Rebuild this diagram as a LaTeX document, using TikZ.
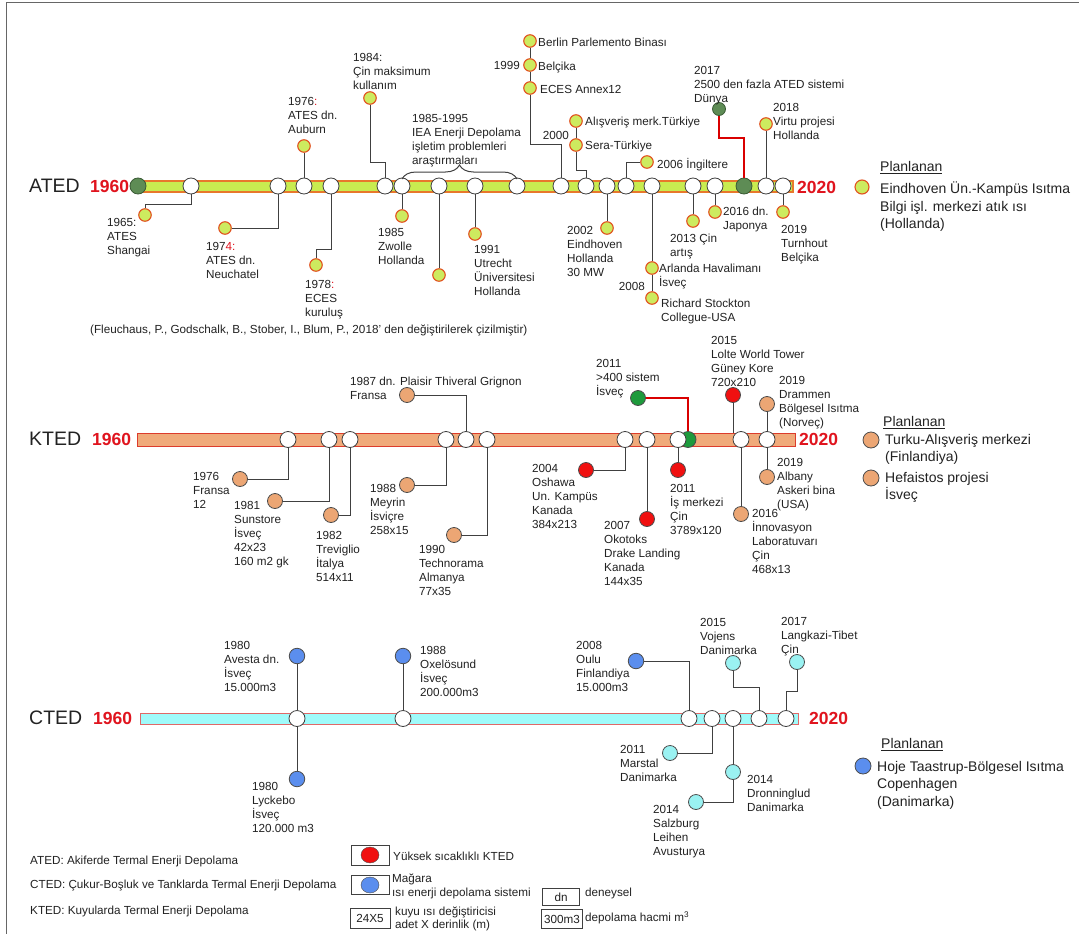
\documentclass[tikz,border=0pt]{standalone}
\usepackage{fontspec}
\setmainfont{Liberation Sans}
\usetikzlibrary{decorations.pathreplacing,shapes.geometric}
\definecolor{atedf}{HTML}{C8EC50}
\definecolor{atedb}{HTML}{E8782C}
\definecolor{adotf}{HTML}{CDEB5F}
\definecolor{adotb}{HTML}{E2501E}
\definecolor{agr}{HTML}{5E8C55}
\definecolor{agrb}{HTML}{3A5A34}
\definecolor{ktedf}{HTML}{F0AA7A}
\definecolor{ktedb}{HTML}{DC3C2C}
\definecolor{kdotf}{HTML}{ECA674}
\definecolor{redd}{HTML}{F01010}
\definecolor{kgr}{HTML}{1E9A3C}
\definecolor{ctedf}{HTML}{A0FAFA}
\definecolor{ctedb}{HTML}{E06868}
\definecolor{blued}{HTML}{5B8EEE}
\definecolor{cyand}{HTML}{9AF2F2}
\definecolor{yearred}{HTML}{E0141E}
\definecolor{txt}{HTML}{222222}
\newcommand{\labf}{\fontsize{11.7}{14}\selectfont}
\newcommand{\planf}{\fontsize{14}{17.5}\selectfont}
\newcommand{\bigf}{\fontsize{19.5}{22}\selectfont}
\newcommand{\yearf}{\fontsize{17.5}{20}\selectfont\bfseries}
\tikzset{
 wc/.style={circle, draw=black!75, fill=white, line width=0.8pt, minimum size=16pt, inner sep=0pt},
 adot/.style={circle, draw=adotb, fill=adotf, line width=1.1pt, minimum size=12.5pt, inner sep=0pt},
 gdot/.style={circle, draw=agrb, fill=agr, line width=0.8pt, minimum size=13pt, inner sep=0pt},
 kdot/.style={circle, draw=black!70, fill=kdotf, line width=0.8pt, minimum size=15pt, inner sep=0pt},
 rdot/.style={kdot, fill=redd},
 kgdot/.style={kdot, fill=kgr},
 bdot/.style={kdot, fill=blued, minimum size=15.5pt},
 cdot/.style={kdot, fill=cyand},
 conn/.style={draw=black!75, line width=1pt},
 rconn/.style={draw=red!85!black, line width=2.4pt},
 lab/.style={font=\labf, align=left, inner sep=0pt, anchor=north west, yshift=4.3pt, text=txt},
 labr/.style={lab, anchor=north east},
 plan/.style={font=\planf, align=left, inner sep=0pt, anchor=north west, yshift=5pt, text=txt},
 bigl/.style={font=\bigf, anchor=west, inner sep=0pt, text=txt},
 yr/.style={font=\yearf, anchor=west, inner sep=0pt, text=yearred},
 leg/.style={font=\labf, anchor=west, inner sep=0pt, text=txt},
 legbox/.style={draw=black!75, line width=0.8pt, inner sep=0pt},
}
\begin{document}
\begin{tikzpicture}[x=1pt,y=-1pt]
\useasboundingbox (0,0) rectangle (1079,934);
\fill[white] (0,0) rectangle (1079,934);
\draw[black!60, line width=1pt] (6,940) -- (6,3) -- (1079,3);

% ================= ATED =================
\node[bigl] (tA) at (29,186) {ATED};
\node[yr] (yA1) at (90,186) {1960};
\node[yr] (yA2) at (797,187) {2020};
\draw[fill=atedf, draw=atedb, line width=1.5pt] (138,181) rectangle (793,192);
\node[gdot, minimum size=16pt] (a0) at (138,186) {};
\foreach \n/\x in {a1/191,a2/278,a3/304,a4/331,a5/385,a6/402,a7/439,a8/475,a9/517,a10/561,a11/586,a12/607,a13/626,a14/652,a15/693,a16/715,a17/766,a18/783}
  \node[wc] (\n) at (\x,186) {};
\node[gdot, minimum size=16pt] (ag) at (744,186) {};

\node[adot] (d1) at (145,215) {};
\node[adot] (d2) at (225,228) {};
\node[adot] (d3) at (304,146) {};
\node[adot] (d4) at (316,265) {};
\node[adot] (d5) at (370,98) {};
\node[adot] (d6) at (402,216) {};
\node[adot] (d7) at (439,275) {};
\node[adot] (d8) at (475,234) {};
\node[adot] (ber) at (530,41) {};
\node[adot] (bel) at (530,65) {};
\node[adot] (eca) at (530,88) {};
\node[adot] (alis) at (576,121) {};
\node[adot] (sera) at (576,145) {};
\node[adot] (d12) at (607,228) {};
\node[adot] (ing) at (647,162) {};
\node[adot] (arl) at (652,268) {};
\node[adot] (ric) at (652,298) {};
\node[adot] (d15) at (693,221) {};
\node[adot] (d16) at (715,212) {};
\node[gdot] (agd) at (719,109) {};
\node[adot] (d17) at (766,124) {};
\node[adot] (d18) at (783,212) {};

\draw[conn] (a1) -- ++(0,18) -| (d1);
\draw[conn] (a2) |- (d2);
\draw[conn] (a3) -- (d3);
\draw[conn] (a4) -- ++(0,63) -| (d4);
\draw[conn] (a5) -- ++(0,-24) -| (d5);
\draw[conn] (a6) -- (d6);
\draw[conn] (a7) -- (d7);
\draw[conn] (a8) -- (d8);
\draw[conn] (a10) -- ++(0,-42) -| (eca);
\draw[conn] (eca) -- (bel);
\draw[conn] (bel) -- (ber);
\draw[conn] (a11) -- ++(0,-16) -| (sera);
\draw[conn] (sera) -- (alis);
\draw[conn] (a12) -- (d12);
\draw[conn] (a13) |- (ing);
\draw[conn] (a14) -- (arl);
\draw[conn] (arl) -- (ric);
\draw[conn] (a15) -- (d15);
\draw[conn] (a16) -- (d16);
\draw[rconn] (ag) -- ++(0,-48) -| (agd);
\draw[conn] (a17) -- (d17);
\draw[conn] (a18) -- (d18);
\draw[conn, decorate, decoration={brace, amplitude=14pt}] (402,179) -- (517,179);

\node[lab] (t1) at (107,222) {1965:\\ATES\\Shangai};
\node[lab] (t2) at (206,246) {197{\color{yearred}4:}\\ATES dn.\\Neuchatel};
\node[lab] (t3) at (288,101) {1976{\color{yearred}:}\\ATES dn.\\Auburn};
\node[lab] (t4) at (305,284) {1978{\color{yearred}:}\\ECES\\kuruluş};
\node[lab] (t5) at (353,57) {1984:\\Çin maksimum\\kullanım};
\node[lab] (t6) at (378,232) {1985\\Zwolle\\Hollanda};
\node[lab] (t7) at (412,118) {1985-1995\\IEA Enerji Depolama\\işletim problemleri\\araştırmaları};
\node[lab] (t8) at (474,249) {1991\\Utrecht\\Üniversitesi\\Hollanda};
\node[lab] (t9) at (538,42) {Berlin Parlemento Binası};
\node[lab] (t10) at (538,66) {Belçika};
\node[lab] (t11) at (540,89) {ECES Annex12};
\node[labr] (t12) at (520,65) {1999};
\node[lab] (t13) at (585,121) {Alışveriş merk.Türkiye};
\node[lab] (t14) at (585,145) {Sera-Türkiye};
\node[labr] (t15) at (569,135) {2000};
\node[lab] (t16) at (567,230) {2002\\Eindhoven\\Hollanda\\30 MW};
\node[lab] (t17) at (657,162) {2006 İngiltere};
\node[lab] (t18) at (659,268) {Arlanda Havalimanı\\İsveç};
\node[labr] (t19) at (645,286) {2008};
\node[lab] (t20) at (661,303) {Richard Stockton\\Collegue-USA};
\node[lab] (t21) at (670,238) {2013 Çin\\artış};
\node[lab] (t22) at (723,211) {2016 dn.\\Japonya};
\node[lab] (t23) at (694,70) {2017\\2500 den fazla ATED sistemi\\Dünya};
\node[lab] (t24) at (773,107) {2018\\Virtu projesi\\Hollanda};
\node[lab] (t25) at (781,229) {2019\\Turnhout\\Belçika};

\node[plan] (pA) at (880,166) {\underline{Planlanan}};
\node[adot, minimum size=14pt] (pa) at (862,187) {};
\node[plan] (pAt) at (880,187) {Eindhoven Ün.-Kampüs Isıtma\\Bilgi işl. merkezi atık ısı\\(Hollanda)};

\node[lab] (cit) at (90,329) {(Fleuchaus, P., Godschalk, B., Stober, I., Blum, P., 2018' den değiştirilerek çizilmiştir)};

% ================= KTED =================
\node[bigl] (tK) at (29,439) {KTED};
\node[yr] (yK1) at (92,439) {1960};
\node[yr] (yK2) at (799,439) {2020};
\draw[fill=ktedf, draw=ktedb, line width=1pt] (137,433) rectangle (795,446);
\node[kgdot, minimum size=16pt] (kgc) at (688,439.5) {};
\foreach \n/\x in {k1/288,k2/329,k3/350,k4/446,k5/466,k6/487,k7/625,k8/647,k9/678,k10/741,k11/767}
  \node[wc] (\n) at (\x,439.5) {};
\coordinate (k15bar) at (733,433);

\node[kdot] (k76) at (240,479) {};
\node[kdot] (k81) at (275,501) {};
\node[kdot] (k82) at (331,515) {};
\node[kdot] (k88) at (407,485) {};
\node[kdot] (k87) at (407,395) {};
\node[kdot] (k90) at (454,535) {};
\node[rdot] (r04) at (586,470) {};
\node[rdot] (r07) at (647,519) {};
\node[rdot] (r11) at (678,470) {};
\node[kgdot] (g11) at (638,398) {};
\node[rdot] (r15) at (733,395) {};
\node[kdot] (k16) at (741,514) {};
\node[kdot] (k19d) at (767,404) {};
\node[kdot] (k19a) at (767,477) {};

\draw[conn] (k1) |- (k76);
\draw[conn] (k2) |- (k81);
\draw[conn] (k3) |- (k82);
\draw[conn] (k4) |- (k88);
\draw[conn] (k5) |- (k87);
\draw[conn] (k6) |- (k90);
\draw[conn] (k7) |- (r04);
\draw[conn] (k8) -- (r07);
\draw[conn] (k9) -- (r11);
\draw[rconn] (kgc) |- (g11);
\draw[conn] (r15) -- (k15bar);
\draw[conn] (k10) -- (k16);
\draw[conn] (k11) -- (k19d);
\draw[conn] (k11) -- (k19a);

\node[lab] (u1) at (193,476) {1976\\Fransa\\12};
\node[lab] (u2) at (234,505) {1981\\Sunstore\\İsveç\\42x23\\160 m2 gk};
\node[lab] (u3) at (316,535) {1982\\Treviglio\\İtalya\\514x11};
\node[lab] (u4) at (370,488) {1988\\Meyrin\\İsviçre\\258x15};
\node[lab] (u5) at (350,381) {1987 dn. Plaisir Thiveral Grignon\\Fransa};
\node[lab] (u6) at (419,549) {1990\\Technorama\\Almanya\\77x35};
\node[lab] (u7) at (532,468) {2004\\Oshawa\\Un. Kampüs\\Kanada\\384x213};
\node[lab] (u8) at (604,525) {2007\\Okotoks\\Drake Landing\\Kanada\\144x35};
\node[lab] (u9) at (670,488) {2011\\İş merkezi\\Çin\\3789x120};
\node[lab] (u10) at (596,363) {2011\\>400 sistem\\İsveç};
\node[lab] (u11) at (711,340) {2015\\Lolte World Tower\\Güney Kore\\720x210};
\node[lab] (u12) at (752,513) {2016\\İnnovasyon\\Laboratuvarı\\Çin\\468x13};
\node[lab] (u13) at (779,380) {2019\\Drammen\\Bölgesel Isıtma\\(Norveç)};
\node[lab] (u14) at (777,462) {2019\\Albany\\Askeri bina\\(USA)};

\node[plan] (pK) at (883,421) {\underline{Planlanan}};
\node[kdot, minimum size=16pt] (kp1) at (871,440) {};
\node[plan] (pK1) at (885,439) {Turku-Alışveriş merkezi\\(Finlandiya)};
\node[kdot, minimum size=16pt] (kp2) at (871,478) {};
\node[plan] (pK2) at (885,477) {Hefaistos projesi\\İsveç};

% ================= CTED =================
\node[bigl] (tC) at (29,718) {CTED};
\node[yr] (yC1) at (93,718) {1960};
\node[yr] (yC2) at (809,718) {2020};
\draw[fill=ctedf, draw=ctedb, line width=1pt] (140,713) rectangle (798,724);
\foreach \n/\x in {c1/297,c2/403,c3/689,c4/712,c5/733,c6/759,c7/786}
  \node[wc] (\n) at (\x,718.5) {};

\node[bdot] (bav) at (297,656) {};
\node[bdot] (bly) at (297,779) {};
\node[bdot] (box) at (403,656) {};
\node[bdot] (bou) at (636,661) {};
\node[cdot] (cmar) at (670,753) {};
\node[cdot] (cdro) at (733,772) {};
\node[cdot] (csal) at (696,802) {};
\node[cdot] (cvoj) at (733,663) {};
\node[cdot] (clan) at (797,662) {};

\draw[conn] (c1) -- (bav);
\draw[conn] (c1) -- (bly);
\draw[conn] (c2) -- (box);
\draw[conn] (c3) |- (bou);
\draw[conn] (c4) |- (cmar);
\draw[conn] (c5) -- (cdro);
\draw[conn] (cdro) |- (csal);
\draw[conn] (c6) -- ++(0,-31) -| (cvoj);
\draw[conn] (c7) -- ++(0,-27) -| (clan);

\node[lab] (v1) at (224,645) {1980\\Avesta dn.\\İsveç\\15.000m3};
\node[lab] (v2) at (252,786) {1980\\Lyckebo\\İsveç\\120.000 m3};
\node[lab] (v3) at (420,650) {1988\\Oxelösund\\İsveç\\200.000m3};
\node[lab] (v4) at (576,645) {2008\\Oulu\\Finlandiya\\15.000m3};
\node[lab] (v5) at (620,749) {2011\\Marstal\\Danimarka};
\node[lab] (v6) at (747,779) {2014\\Dronninglud\\Danimarka};
\node[lab] (v7) at (653,809) {2014\\Salzburg\\Leihen\\Avusturya};
\node[lab] (v8) at (700,622) {2015\\Vojens\\Danimarka};
\node[lab] (v9) at (781,621) {2017\\Langkazi-Tibet\\Çin};

\node[plan] (pC) at (881,743) {\underline{Planlanan}};
\node[bdot, minimum size=16pt] (cp) at (863,766) {};
\node[plan] (pC1) at (877,766) {Hoje Taastrup-Bölgesel Isıtma\\Copenhagen\\(Danimarka)};

% ================= Legend =================
\node[leg] (g1) at (30,861) {ATED: Akiferde Termal Enerji Depolama};
\node[leg] (g2) at (30,885) {CTED: Çukur-Boşluk ve Tanklarda Termal Enerji Depolama};
\node[leg] (g3) at (30,911) {KTED: Kuyularda Termal Enerji Depolama};

\node[legbox, minimum width=38pt, minimum height=20pt] (lb1) at (370,855) {};
\node[ellipse, draw=black!70, fill=redd, minimum width=18pt, minimum height=16pt, inner sep=0pt] (le1) at (370,855) {};
\node[leg] (g4) at (393,856) {Yüksek sıcaklıklı KTED};

\node[legbox, minimum width=38pt, minimum height=19pt] (lb2) at (370,885) {};
\node[ellipse, draw=black!70, fill=blued, minimum width=18pt, minimum height=16pt, inner sep=0pt] (le2) at (370,885) {};
\node[leg] (g5) at (392,879) {Mağara};
\node[leg] (g6) at (392,893) {ısı enerji depolama sistemi};

\node[legbox, minimum width=37pt, minimum height=17pt] (lb3) at (561,897) {};
\node[leg, anchor=center] (g7) at (561,897) {dn};
\node[leg] (g8) at (585,893) {deneysel};

\node[legbox, minimum width=40pt, minimum height=20pt] (lb4) at (370,918) {};
\node[leg, anchor=center] (g9) at (370,918) {24X5};
\node[leg] (g10) at (395,912) {kuyu ısı değiştiricisi};
\node[leg] (g11) at (395,925) {adet X derinlik (m)};

\node[legbox, minimum width=41pt, minimum height=19pt] (lb5) at (562,919) {};
\node[leg, anchor=center] (g12) at (562,919) {300m3};
\node[leg] (g13) at (585,918) {depolama hacmi m\textsuperscript{3}};
\end{tikzpicture}
\end{document}
